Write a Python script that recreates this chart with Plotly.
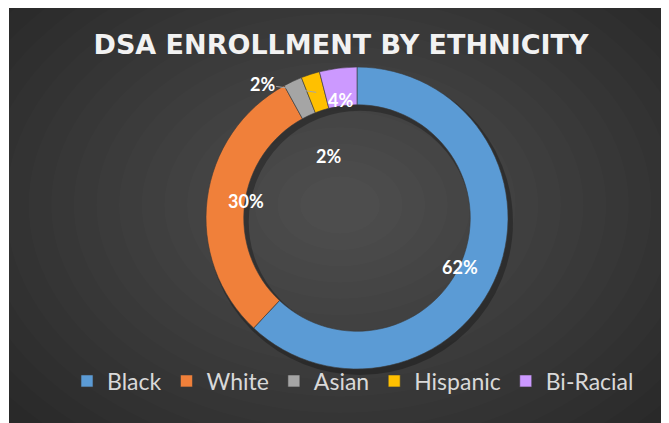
import numpy as np
import plotly.graph_objects as go

# the page body keeps its default 8px margin, so the figure is drawn that far in
OFF = 8
W, H = 669 - OFF, 423 - OFF

groups = ["Black", "White", "Asian", "Hispanic", "Bi-Racial"]
shares = [62, 30, 2, 2, 4]
colors = ["#5b9bd5", "#f0803a", "#a5a5a5", "#ffc000", "#cc99ff"]
title_text = "DSA ENROLLMENT BY ETHNICITY"

# donut geometry, in page pixels
cx, cy, R = 357, 218, 151
hole = 0.75
rm = R * (1 + hole) / 2


def px(x, y):
    # page pixel -> paper fraction
    return (x - OFF) / W, 1 - (y - OFF) / H


dom_x = [(cx - R - OFF) / W, (cx + R - OFF) / W]
dom_y = [1 - (cy + R - OFF) / H, 1 - (cy - R - OFF) / H]

x0, _ = px(9, 0)
shapes = [dict(type="rect", xref="paper", yref="paper", x0=x0, x1=1, y0=0, y1=1,
               fillcolor="#252525", line=dict(width=0), layer="below")]
# soft radial glow, lighter in the middle
gx, gy = 340, 205
for rx in np.linspace(470, 40, 20):
    ry = rx * 0.72
    ex0, ey0 = px(gx - rx, gy + ry)
    ex1, ey1 = px(gx + rx, gy - ry)
    shapes.append(dict(type="circle", xref="paper", yref="paper", x0=ex0, x1=ex1, y0=ey0, y1=ey1,
                       fillcolor="white", opacity=0.012, line=dict(width=0), layer="below"))
# drop shadow of the ring
sx0, sy0 = px(cx + 3 - rm, cy + 4 + rm)
sx1, sy1 = px(cx + 3 + rm, cy + 4 - rm)
shapes.append(dict(type="circle", xref="paper", yref="paper", x0=sx0, x1=sx1, y0=sy0, y1=sy1,
                   line=dict(color="rgba(0,0,0,0.28)", width=R * (1 - hole) + 4), layer="below"))

fig = go.Figure(go.Pie(
    labels=groups, values=shares, hole=hole, sort=False, direction="clockwise", rotation=0,
    marker=dict(colors=colors, line=dict(color="#3a3a3a", width=0.6)),
    textinfo="none", domain=dict(x=dom_x, y=dom_y), hoverinfo="skip",
))

# percentage labels, placed from each slice's middle angle
lab_font = dict(family="Lato", size=18, color="white", weight="bold")
cum = np.cumsum(shares)
mid = (cum - np.array(shares) / 2) / cum[-1] * 2 * np.pi
i_asian, i_hisp = groups.index("Asian"), groups.index("Hispanic")
annotations = []
for i, s in enumerate(shares):
    if i == i_asian:
        r = 68  # this one sits inside the hole
    else:
        r = rm
    ax_, ay_ = px(cx + r * np.sin(mid[i]), cy - r * np.cos(mid[i]))
    if i == i_hisp:
        annotations.append(dict(x=ax_, y=ay_, xref="paper", yref="paper", text="%d%%" % s,
                                showarrow=True, arrowhead=0, arrowwidth=1, arrowcolor="#a6a6a6",
                                ax=-54, ay=-8, standoff=0, font=lab_font))
    else:
        annotations.append(dict(x=ax_, y=ay_, xref="paper", yref="paper", text="%d%%" % s,
                                showarrow=False, font=lab_font))

tx, ty = px(341, 45)
lx, ly = px(353, 381)
fig.update_layout(
    width=W, height=H, margin=dict(l=0, r=0, t=0, b=0),
    paper_bgcolor="white", plot_bgcolor="white",
    shapes=shapes, annotations=annotations,
    title=dict(text=title_text, x=tx, xanchor="center", y=ty, yanchor="middle",
               yref="container",
               font=dict(family="DejaVu Sans", size=27, color="#f2f2f2", weight="bold")),
    legend=dict(orientation="h", x=lx, xanchor="center", y=ly, yanchor="middle",
                font=dict(family="Lato", size=23, color="#d9d9d9"), bgcolor="rgba(0,0,0,0)"),
)

fig.write_html("out.html")
